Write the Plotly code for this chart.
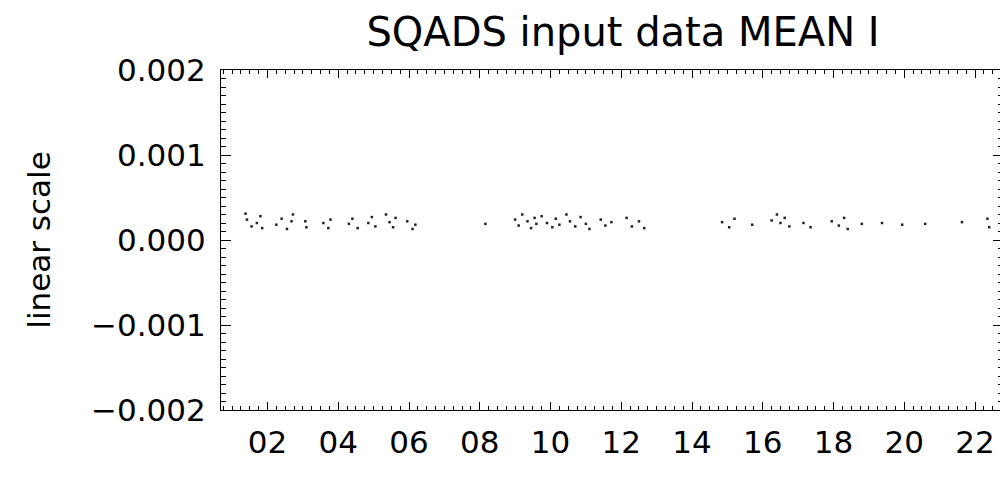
import plotly.graph_objects as go

# hours of day and mean I values
hours = [1.38, 1.42, 1.55, 1.70, 1.80, 1.85,
         2.25, 2.40, 2.55, 2.68, 2.72,
         3.07, 3.10, 3.58, 3.72, 3.78,
         4.30, 4.40, 4.55, 4.85, 4.95, 5.05,
         5.35, 5.45, 5.55, 5.62, 5.95, 6.10, 6.18,
         8.16,
         9.00, 9.10, 9.20, 9.35, 9.45, 9.55, 9.60,
         9.75, 9.90, 10.05, 10.15, 10.25,
         10.45, 10.55, 10.70, 10.85, 11.00, 11.10,
         11.42, 11.55, 11.72,
         12.15, 12.30, 12.50, 12.65,
         14.85, 15.05, 15.20, 15.70,
         16.25, 16.40, 16.50, 16.62, 16.75,
         17.15, 17.35,
         17.95, 18.15, 18.30, 18.40,
         18.80, 19.37, 19.94, 20.59, 21.63, 22.35, 22.40]
mean_i = [0.00031, 0.00024, 0.00016, 0.00020, 0.00028, 0.00014,
          0.00018, 0.00025, 0.00013, 0.00022, 0.00030,
          0.00022, 0.00015, 0.00020, 0.00014, 0.00024,
          0.00019, 0.00025, 0.00014, 0.00020, 0.00027, 0.00016,
          0.00030, 0.00021, 0.00015, 0.00026, 0.00022, 0.00013, 0.00018,
          0.00019,
          0.00024, 0.00017, 0.00030, 0.00022, 0.00014, 0.00026, 0.00019,
          0.00028, 0.00020, 0.00015, 0.00025, 0.00018,
          0.00030, 0.00022, 0.00016, 0.00027, 0.00019, 0.00013,
          0.00024, 0.00017, 0.00021,
          0.00026, 0.00016, 0.00022, 0.00014,
          0.00021, 0.00015, 0.00025, 0.00018,
          0.00023, 0.00030, 0.00020, 0.00026, 0.00016,
          0.00020, 0.00015,
          0.00022, 0.00017, 0.00026, 0.00013,
          0.00019, 0.00020, 0.00018, 0.00019, 0.00021, 0.00025, 0.00015]

x_ticks = [2, 4, 6, 8, 10, 12, 14, 16, 18, 20, 22]
x_labels = ["02", "04", "06", "08", "10", "12", "14", "16", "18", "20", "22"]
y_ticks = [-0.002, -0.001, 0.0, 0.001, 0.002]

font = "DejaVu Sans, sans-serif"

fig = go.Figure(go.Scatter(
    x=hours, y=mean_i, mode="markers",
    marker=dict(size=2.5, color="#222", symbol="square"),
))

axis_common = dict(
    showline=True, linecolor="black", linewidth=1, mirror="ticks",
    ticks="inside", tickcolor="black", tickwidth=1,
    showgrid=False, zeroline=False,
    tickfont=dict(family=font, size=31, color="black"),
)

fig.update_xaxes(
    range=[0.686, 22.79], tickvals=x_ticks, ticktext=x_labels, ticklen=8,
    ticklabelstandoff=5,
    minor=dict(dtick=0.25, ticks="inside", ticklen=4, tickcolor="black", tickwidth=1),
    **axis_common,
)
fig.update_yaxes(
    range=[-0.002, 0.002], tickvals=y_ticks, tickformat=".3f", ticklen=10,
    ticklabelstandoff=8,
    minor=dict(dtick=0.0001, ticks="inside", ticklen=5, tickcolor="black", tickwidth=1),
    title=dict(text="linear scale", font=dict(family=font, size=31, color="black"), standoff=31),
    **axis_common,
)

# the page body has an 8px margin, so the figure is 8px smaller than the window
fig.update_layout(
    width=1000, height=470,
    margin=dict(l=213, r=5, t=62, b=68),
    plot_bgcolor="white", paper_bgcolor="white",
    showlegend=False,
    title=dict(text="SQADS input data MEAN I", x=0.615, xanchor="center",
               yref="container", y=1 - 24 / 470, yanchor="middle",
               font=dict(family=font, size=40, color="black")),
)
# first title line, mostly above the top edge in the reference
fig.add_annotation(text="2010 253", xref="paper", yref="paper", x=0.51, y=1.153,
                   xanchor="center", yanchor="bottom", showarrow=False,
                   font=dict(family=font, size=38, color="black"))

fig.write_html("out.html")
